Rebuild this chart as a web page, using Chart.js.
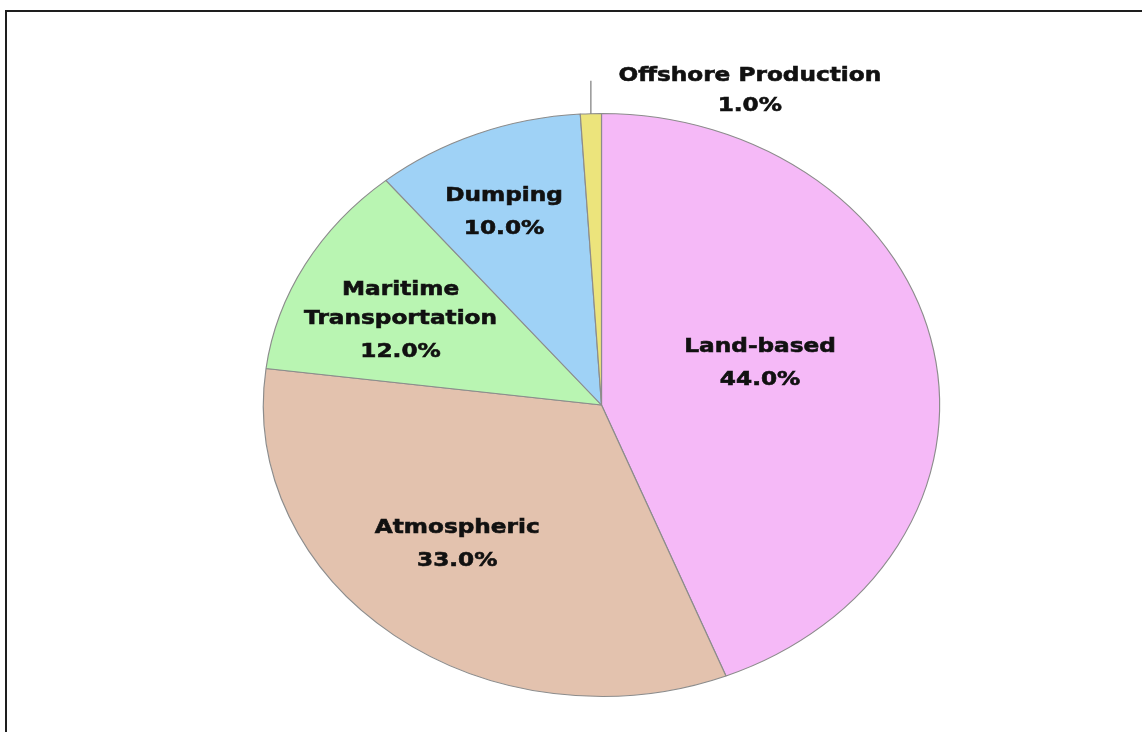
<!DOCTYPE html>
<html>
<head>
<meta charset="utf-8">
<script src="https://cdn.jsdelivr.net/npm/chart.js@4"></script>
<style>
  html, body { margin: 0; padding: 0; background: #fff; }
  #wrap { position: relative; width: 1142px; height: 732px; overflow: hidden; }
  #frame { position: absolute; left: 5px; top: 10px; width: 1200px; height: 800px;
           border-top: 2px solid #1e1e1e; border-left: 2px solid #1e1e1e; }
  canvas { position: absolute; left: 0; top: 0; }
</style>
</head>
<body>
<div id="wrap">
  <div id="frame"></div>
  <canvas id="pollutionPie" width="1142" height="732"></canvas>
</div>
<script>
const categories = [['Land-based'], ['Atmospheric'], ['Maritime', 'Transportation'], ['Dumping'], ['Offshore Production']];
const shares = [44, 33, 12, 10, 1];
const sliceColors = ['#f5b9f7', '#e3c2ae', '#b9f5b2', '#9fd2f6', '#ece47c'];

// the original picture is stretched sideways, so the pie is an ellipse
const stretch = 1.16;
// label anchor as fraction of radius and a small turn (degrees) from the slice middle
const labelFrac = [0.49, 0.64, 0.66, 0.72, null];
const labelTurn = [-6, 4, -3, -2, 0];

function stretched(chart, fn) {
    const ctx = chart.ctx;
    const cx = chart.getDatasetMeta(0).data[0].x;
    ctx.save();
    ctx.translate(cx, 0);
    ctx.scale(stretch, 1);
    ctx.translate(-cx, 0);
    fn(ctx);
    ctx.restore();
}

const stretchPlugin = {
    id: 'stretch',
    beforeDatasetsDraw(chart) {
        const ctx = chart.ctx;
        const cx = chart.getDatasetMeta(0).data[0].x;
        ctx.save();
        ctx.translate(cx, 0);
        ctx.scale(stretch, 1);
        ctx.translate(-cx, 0);
    },
    afterDatasetsDraw(chart) {
        chart.ctx.restore();
    }
};

function heavyText(ctx, txt, x, y) {
    ctx.fillText(txt, x, y);
    ctx.strokeText(txt, x, y);
}

const sliceLabels = {
    id: 'sliceLabels',
    afterDraw(chart) {
        const arcs = chart.getDatasetMeta(0).data;
        stretched(chart, (ctx) => {
            ctx.textAlign = 'center';
            ctx.textBaseline = 'middle';
            ctx.font = 'bold 20px "DejaVu Sans"';
            arcs.forEach((arc, i) => {
                const mid = (arc.startAngle + arc.endAngle) / 2;
                const names = categories[i];
                const pct = shares[i].toFixed(1) + '%';
                ctx.fillStyle = '#111';
                ctx.strokeStyle = '#111';
                ctx.lineWidth = 0.6;
                if (labelFrac[i] === null) {
                    // small slice: label outside with a leader line
                    const ex = arc.x + arc.outerRadius * Math.cos(mid);
                    const ey = arc.y + arc.outerRadius * Math.sin(mid);
                    heavyText(ctx, names[0], ex + 137, ey - 38);
                    heavyText(ctx, pct, ex + 137, ey - 8);
                    ctx.strokeStyle = '#777';
                    ctx.lineWidth = 1;
                    ctx.beginPath();
                    ctx.moveTo(ex, ey);
                    ctx.lineTo(ex, ey - 33);
                    ctx.stroke();
                    return;
                }
                const a = mid + labelTurn[i] * Math.PI / 180;
                const r = arc.outerRadius * labelFrac[i];
                const x = arc.x + r * Math.cos(a);
                const y = arc.y + r * Math.sin(a);
                const span = (names.length - 1) * 29 + 33;
                let ly = y - span / 2;
                names.forEach((n) => {
                    heavyText(ctx, n, x, ly);
                    ly += 29;
                });
                heavyText(ctx, pct, x, ly + 4);
            });
        });
    }
};

new Chart(document.getElementById('pollutionPie').getContext('2d'), {
    type: 'pie',
    data: {
        labels: categories,
        datasets: [{
            data: shares,
            backgroundColor: sliceColors,
            borderColor: '#8c8c8c',
            borderWidth: 1
        }]
    },
    options: {
        responsive: false,
        animation: false,
        layout: {
            padding: { top: 113, bottom: 35, left: 300, right: 239 }
        },
        plugins: {
            legend: { display: false },
            tooltip: { enabled: false }
        }
    },
    plugins: [stretchPlugin, sliceLabels]
});
</script>
</body>
</html>
